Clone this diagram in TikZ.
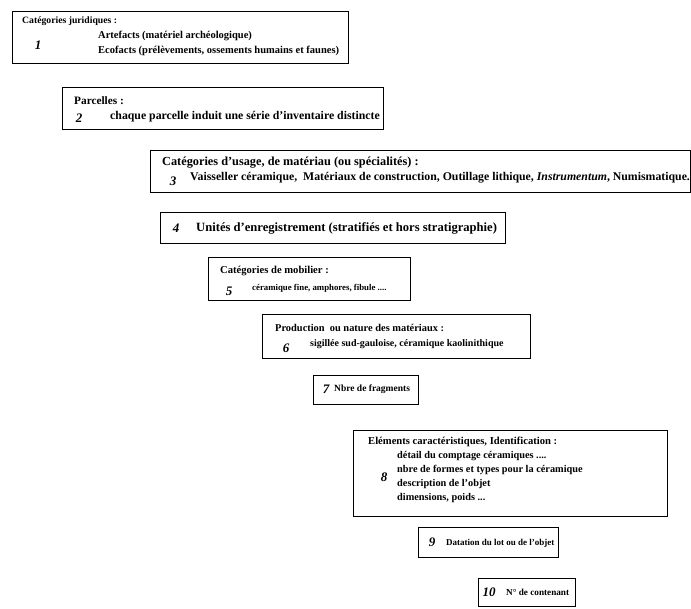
\documentclass[tikz,border=0pt]{standalone}
\usepackage{fontspec}
\setmainfont{Liberation Serif}
\usetikzlibrary{positioning}

\begin{document}
\begin{tikzpicture}[x=1pt, y=-1pt,
        box/.style={rectangle, draw, line width=0.8pt, anchor=north west, inner sep=0pt},
        txt/.style={anchor=west, inner sep=0pt, font=\fontsize{#1}{#1}\selectfont\bfseries},
        txt/.default=10,
        num/.style={anchor=center, inner sep=0pt, font=\fontsize{13}{14}\selectfont\bfseries\itshape},
    ]
        \useasboundingbox (0,0) rectangle (691,609);

        % Boxes, staggered down to the right
        \node[box, minimum width=336pt, minimum height=52pt] (b1) at (12,11) {};
        \node[box, minimum width=321pt, minimum height=42pt] (b2) at (62,87) {};
        \node[box, minimum width=540pt, minimum height=42pt] (b3) at (150,150) {};
        \node[box, minimum width=345pt, minimum height=31pt] (b4) at (160,212) {};
        \node[box, minimum width=202pt, minimum height=43pt] (b5) at (208,257) {};
        \node[box, minimum width=268pt, minimum height=44pt] (b6) at (262,314) {};
        \node[box, minimum width=105pt, minimum height=29pt] (b7) at (313,375) {};
        \node[box, minimum width=314pt, minimum height=86pt] (b8) at (353,430) {};
        \node[box, minimum width=140pt, minimum height=30pt] (b9) at (418,527) {};
        \node[box, minimum width=97pt, minimum height=28pt] (b10) at (478,578) {};

        % Box 1
        \node[txt=9.7] (h1) at (22,21) {Catégories juridiques :};
        \node[num] (n1) at (38,45) {1};
        \node[txt=10.5] (l1a) at (98,36) {Artefacts (matériel archéologique)};
        \node[txt=10.5] (l1b) at (98,51) {Ecofacts (prélèvements, ossements humains et faunes)};

        % Box 2
        \node[txt=11.3] (h2) at (74,101) {Parcelles :};
        \node[num] (n2) at (79,118) {2};
        \node[txt=11.8] (l2) at (110,117) {chaque parcelle induit une série d'inventaire distincte};

        % Box 3
        \node[txt=12.3] (h3) at (162,163) {Catégories d'usage, de matériau (ou spécialités) :};
        \node[num] (n3) at (173,181) {3};
        \node[txt=11.8] (l3) at (190,178) {Vaisseller céramique,\ \ Matériaux de construction, Outillage lithique, \textit{Instrumentum}, Numismatique.};

        % Box 4
        \node[num] (n4) at (176,228) {4};
        \node[txt=12.6] (l4) at (196,228) {Unités d'enregistrement (stratifiés et hors stratigraphie)};

        % Box 5
        \node[txt=10.6] (h5) at (220,271) {Catégories de mobilier :};
        \node[num] (n5) at (229,291) {5};
        \node[txt=8.8] (l5) at (252,288) {céramique fine, amphores, fibule ....};

        % Box 6
        \node[txt=10.4] (h6) at (275,328) {Production\ \ ou nature des matériaux :};
        \node[num] (n6) at (286,348) {6};
        \node[txt] (l6) at (310,344) {sigillée sud-gauloise, céramique kaolinithique};

        % Box 7
        \node[num] (n7) at (326,389) {7};
        \node[txt=9.5] (l7) at (334,389) {Nbre de fragments};

        % Box 8
        \node[txt=10.6] (h8) at (368,442) {Eléments caractéristiques, Identification :};
        \node[num] (n8) at (384,477) {8};
        \node[txt=10.3] (l8a) at (397,456) {détail du comptage céramiques ....};
        \node[txt=10.3] (l8b) at (397,470) {nbre de formes et types pour la céramique};
        \node[txt=10.3] (l8c) at (397,484) {description de l'objet};
        \node[txt=10.3] (l8d) at (397,498) {dimensions, poids ...};

        % Box 9
        \node[num] (n9) at (432,542) {9};
        \node[txt=9] (l9) at (446,543) {Datation du lot ou de l'objet};

        % Box 10
        \node[num] (n10) at (489,592) {10};
        \node[txt=9.2] (l10) at (506,592) {N° de contenant};

    \end{tikzpicture}
\end{document}
